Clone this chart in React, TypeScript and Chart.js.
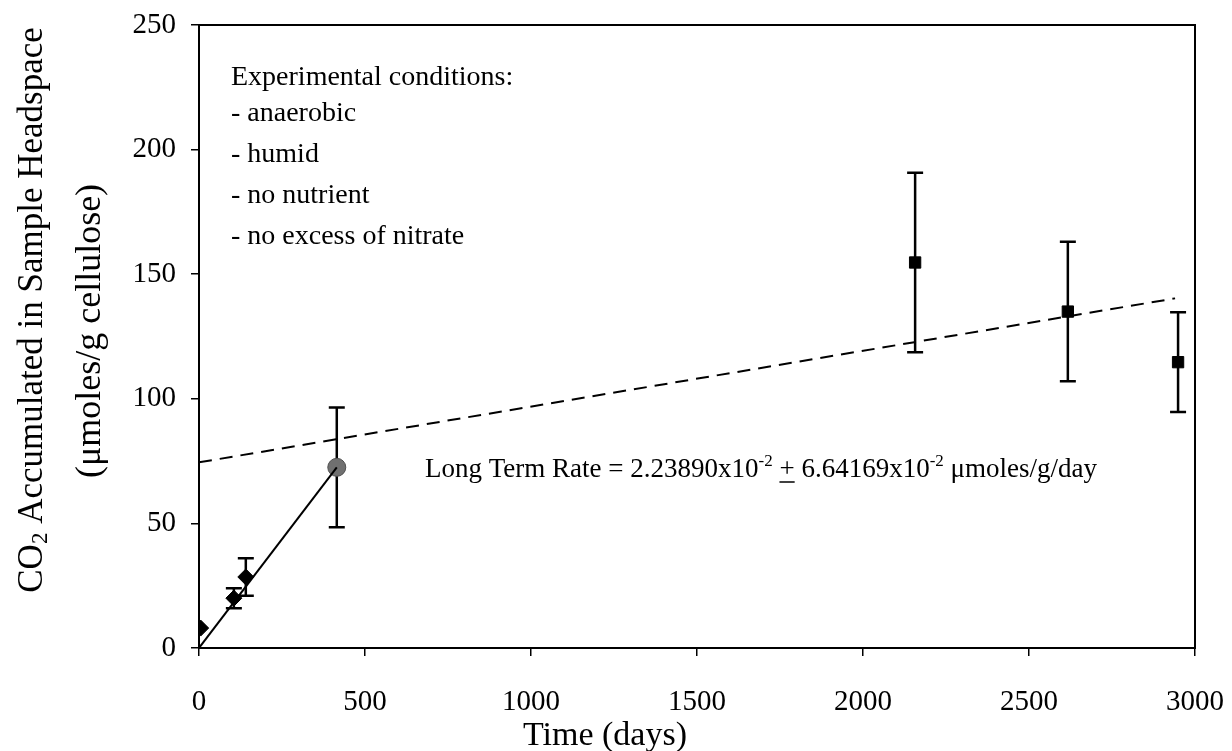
import { useEffect, useRef } from "react";
import { Chart, registerables } from "chart.js";

Chart.register(...registerables);

// ---- data ----
const earlyDays = [5, 105, 141];
const earlyCO2 = [8, 20, 28.5];
const earlyErr = [0, 4, 7.5];

const midDays = [415];
const midCO2 = [72.5];
const midErr = [24];

const lateDays = [2157, 2617, 2949];
const lateCO2 = [154.7, 135, 114.7];
const lateErr = [36, 28, 20];

const initialFitDays = [0, 415];
const initialFitCO2 = [0, 72.5];

const longFitDays = [0, 2940];
const longFitCO2 = [74.5, 140.3];

const xTickValues = [0, 500, 1000, 1500, 2000, 2500, 3000];
const yTickValues = [0, 50, 100, 150, 200, 250];

const conditionLines = [
  "Experimental conditions:",
  "- anaerobic",
  "- humid",
  "- no nutrient",
  "- no excess of nitrate",
];

const xTitle = "Time (days)";
const yTitleLine1 = ["CO", "2", " Accumulated in Sample Headspace"];
const yTitleLine2 = "(\u03BCmoles/g cellulose)";
const rateText = [
  { t: "Long Term Rate = 2.23890x10", sup: false, u: false },
  { t: "-2", sup: true, u: false },
  { t: " ", sup: false, u: false },
  { t: "+", sup: false, u: true },
  { t: " 6.64169x10", sup: false, u: false },
  { t: "-2", sup: true, u: false },
  { t: " \u03BCmoles/g/day", sup: false, u: false },
];

const SERIF = "'Liberation Serif', 'Times New Roman', serif";

const toPts = (xs: number[], ys: number[]) => xs.map((x, i) => ({ x, y: ys[i] }));

const errorBarPlugin = {
  id: "errorBars",
  beforeDatasetsDraw(chart: any) {
    const ctx = chart.ctx;
    const yScale = chart.scales.y;
    ctx.save();
    ctx.strokeStyle = "#000";
    ctx.lineWidth = 2.5;
    chart.data.datasets.forEach((ds: any, di: number) => {
      if (!ds.errors) return;
      const meta = chart.getDatasetMeta(di);
      meta.data.forEach((pt: any, i: number) => {
        const e = ds.errors[i];
        if (!e) return;
        const v = ds.data[i].y;
        const top = yScale.getPixelForValue(v + e);
        const bot = yScale.getPixelForValue(v - e);
        const cap = 8;
        ctx.beginPath();
        ctx.moveTo(pt.x, top);
        ctx.lineTo(pt.x, bot);
        ctx.moveTo(pt.x - cap, top);
        ctx.lineTo(pt.x + cap, top);
        ctx.moveTo(pt.x - cap, bot);
        ctx.lineTo(pt.x + cap, bot);
        ctx.stroke();
      });
    });
    ctx.restore();
  },
};

const decorPlugin = {
  id: "decor",
  afterDraw(chart: any) {
    const ctx = chart.ctx;
    const a = chart.chartArea;
    ctx.save();
    // frame
    ctx.strokeStyle = "#000";
    ctx.lineWidth = 2;
    ctx.strokeRect(a.left, a.top, a.right - a.left, a.bottom - a.top);

    ctx.fillStyle = "#000";
    ctx.textBaseline = "alphabetic";

    // conditions block
    ctx.font = `28px ${SERIF}`;
    ctx.textAlign = "left";
    conditionLines.forEach((line, i) => {
      const y = i === 0 ? 85 : 121 + (i - 1) * 41;
      ctx.fillText(line, 231, y);
    });

    // long term rate
    let x = 425;
    const base = 477;
    const big = 27;
    const small = 17;
    rateText.forEach((p) => {
      ctx.font = `${p.sup ? small : big}px ${SERIF}`;
      const w = ctx.measureText(p.t).width;
      ctx.fillText(p.t, x, p.sup ? base - 11 : base);
      if (p.u) {
        ctx.beginPath();
        ctx.lineWidth = 1.5;
        ctx.moveTo(x, base + 5);
        ctx.lineTo(x + w, base + 5);
        ctx.stroke();
      }
      x += w;
    });

    // x title
    ctx.font = `34px ${SERIF}`;
    ctx.textAlign = "center";
    ctx.fillText(xTitle, 605, 745);

    // y title (rotated)
    ctx.save();
    ctx.translate(42, 310);
    ctx.rotate(-Math.PI / 2);
    const bigY = 35;
    const subY = 23;
    const widths = yTitleLine1.map((t, i) => {
      ctx.font = `${i === 1 ? subY : bigY}px ${SERIF}`;
      return ctx.measureText(t).width;
    });
    let lx = -widths.reduce((s, w) => s + w, 0) / 2;
    ctx.textAlign = "left";
    yTitleLine1.forEach((t, i) => {
      ctx.font = `${i === 1 ? subY : bigY}px ${SERIF}`;
      ctx.fillText(t, lx, i === 1 ? 5 : 0);
      lx += widths[i];
    });
    ctx.restore();

    ctx.save();
    ctx.translate(100, 331);
    ctx.rotate(-Math.PI / 2);
    ctx.font = `36px ${SERIF}`;
    ctx.textAlign = "center";
    ctx.fillText(yTitleLine2, 0, 0);
    ctx.restore();

    ctx.restore();
  },
};

const whiteBg = {
  id: "whiteBg",
  beforeDraw(chart: any) {
    const ctx = chart.ctx;
    ctx.save();
    ctx.fillStyle = "#fff";
    ctx.fillRect(0, 0, chart.width, chart.height);
    ctx.restore();
  },
};

export default function App() {
  const ref = useRef<HTMLCanvasElement | null>(null);

  useEffect(() => {
    if (!ref.current) return;
    const tickFont = { family: SERIF, size: 29 };
    const chart = new Chart(ref.current, {
      type: "scatter",
      data: {
        datasets: [
          {
            label: "Initial fit",
            type: "line",
            data: toPts(initialFitDays, initialFitCO2),
            borderColor: "#000",
            borderWidth: 2,
            pointRadius: 0,
            fill: false,
          } as any,
          {
            label: "Long term fit",
            type: "line",
            data: toPts(longFitDays, longFitCO2),
            borderColor: "#000",
            borderWidth: 2,
            borderDash: [13, 8],
            pointRadius: 0,
            fill: false,
          } as any,
          {
            label: "Early",
            data: toPts(earlyDays, earlyCO2),
            errors: earlyErr,
            pointStyle: "rectRot",
            pointRadius: 8,
            backgroundColor: "#000",
            borderColor: "#000",
            borderWidth: 1,
          } as any,
          {
            label: "Mid",
            data: toPts(midDays, midCO2),
            errors: midErr,
            pointStyle: "circle",
            pointRadius: 9,
            backgroundColor: "#707070",
            borderColor: "#505050",
            borderWidth: 1,
          } as any,
          {
            label: "Late",
            data: toPts(lateDays, lateCO2),
            errors: lateErr,
            pointStyle: "rect",
            pointRadius: 8,
            backgroundColor: "#000",
            borderColor: "#000",
            borderWidth: 1,
          } as any,
        ],
      },
      options: {
        responsive: false,
        animation: false,
        layout: { padding: { left: 0, right: 37, top: 25, bottom: 0 } },
        plugins: {
          legend: { display: false },
          tooltip: { enabled: false },
        },
        scales: {
          x: {
            type: "linear",
            min: 0,
            max: 3000,
            afterFit: (s: any) => {
              s.height = 103;
              s.paddingLeft = 0;
              s.paddingRight = 0;
            },
            afterBuildTicks: (s: any) => {
              s.ticks = xTickValues.map((v) => ({ value: v }));
            },
            ticks: {
              font: tickFont,
              color: "#000",
              padding: 29,
              maxRotation: 0,
              autoSkip: false,
              callback: (v: any) => String(v),
            },
            grid: {
              drawOnChartArea: false,
              drawTicks: true,
              tickLength: 8,
              color: "#000",
              lineWidth: 1.5,
            },
            border: { display: true, color: "#000", width: 2 },
          },
          y: {
            type: "linear",
            min: 0,
            max: 250,
            afterFit: (s: any) => {
              s.width = 199;
              s.paddingTop = 0;
              s.paddingBottom = 0;
            },
            afterBuildTicks: (s: any) => {
              s.ticks = yTickValues.map((v) => ({ value: v }));
            },
            ticks: {
              font: tickFont,
              color: "#000",
              padding: 15,
              autoSkip: false,
              callback: (v: any) => String(v),
            },
            grid: {
              drawOnChartArea: false,
              drawTicks: true,
              tickLength: 8,
              color: "#000",
              lineWidth: 1.5,
            },
            border: { display: true, color: "#000", width: 2 },
          },
        },
      },
      plugins: [whiteBg, errorBarPlugin, decorPlugin],
    });
    return () => chart.destroy();
  }, []);

  return (
    <canvas
      ref={ref}
      width={1232}
      height={751}
      style={{ position: "fixed", left: 0, top: 0, width: 1232, height: 751 }}
    />
  );
}
